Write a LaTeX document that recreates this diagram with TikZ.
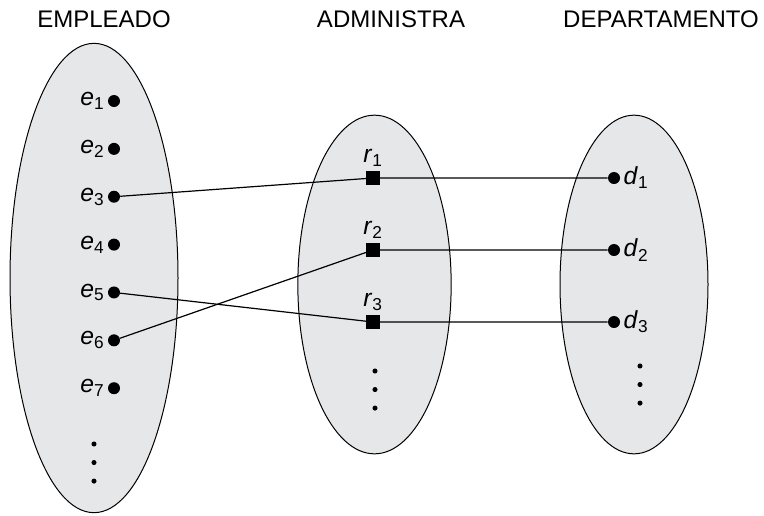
\documentclass[tikz,border=0pt]{standalone}
\usepackage{fontspec}
\setmainfont{Liberation Sans}
\usetikzlibrary{shapes.geometric,positioning}
\definecolor{setfill}{RGB}{230,231,232}
\newcommand{\elem}[2]{{\fontsize{18.5}{22}\selectfont\textit{#1}\textsubscript{#2}}}

\begin{document}
\begin{tikzpicture}[x=0.75pt,y=-0.75pt,node distance=35.9pt,font=\fontsize{18}{21}\selectfont]
            \tikzstyle{set}=[ellipse,draw,fill=setfill,line width=0.75pt,inner sep=0pt]
            \tikzstyle{member}=[circle,fill=black,inner sep=0pt,minimum size=9pt]
            \tikzstyle{rel}=[rectangle,fill=black,inner sep=0pt,minimum size=10pt]
            \tikzstyle{more}=[circle,fill=black,inner sep=0pt,minimum size=3.8pt]
            \tikzstyle{link}=[draw,line width=0.9pt]

            \useasboundingbox (0,0) rectangle (764,515);

            % the three sets
            \node [set, minimum width=126pt, minimum height=352pt] (E) at (94,278) {};
            \node [set, minimum width=115pt, minimum height=254pt] (A) at (374.5,284.5) {};
            \node [set, minimum width=111pt, minimum height=254pt] (D) at (634,284.5) {};

            \node [anchor=base] (tE) at (104,27) {EMPLEADO};
            \node [anchor=base] (tA) at (391,27) {ADMINISTRA};
            \node [anchor=base] (tD) at (661,27) {DEPARTAMENTO};

            % empleados
            \node [member, label={[label distance=-1pt]left:\elem{e}{1}}] (e1) at (114,101) {};
            \node [member, label={[label distance=-1pt]left:\elem{e}{2}}] (e2) [below of=e1] {};
            \node [member, label={[label distance=-1pt]left:\elem{e}{3}}] (e3) [below of=e2] {};
            \node [member, label={[label distance=-1pt]left:\elem{e}{4}}] (e4) [below of=e3] {};
            \node [member, label={[label distance=-1pt]left:\elem{e}{5}}] (e5) [below of=e4] {};
            \node [member, label={[label distance=-1pt]left:\elem{e}{6}}] (e6) [below of=e5] {};
            \node [member, label={[label distance=-1pt]left:\elem{e}{7}}] (e7) [below of=e6] {};
            \node [more] (eA) at (94,444) {};
            \node [more] (eB) [below of=eA, node distance=13.9pt] {};
            \node [more] (eC) [below of=eB, node distance=13.9pt] {};

            % relaciones
            \node [rel, label=above:{\elem{r}{1}}] (r1) at (373,178) {};
            \node [rel, label=above:{\elem{r}{2}}] (r2) [below of=r1, node distance=54pt] {};
            \node [rel, label=above:{\elem{r}{3}}] (r3) [below of=r2, node distance=54pt] {};
            \node [more] (rA) at (375,371) {};
            \node [more] (rB) [below of=rA, node distance=13.9pt] {};
            \node [more] (rC) [below of=rB, node distance=13.9pt] {};

            % departamentos
            \node [member, label={[label distance=-1pt]right:\elem{d}{1}}] (d1) at (614,178) {};
            \node [member, label={[label distance=-1pt]right:\elem{d}{2}}] (d2) [below of=d1, node distance=54pt] {};
            \node [member, label={[label distance=-1pt]right:\elem{d}{3}}] (d3) [below of=d2, node distance=54pt] {};
            \node [more] (dA) at (640,366) {};
            \node [more] (dB) [below of=dA, node distance=13.9pt] {};
            \node [more] (dC) [below of=dB, node distance=13.9pt] {};

            \path [link] (e3) -- (r1) -- (d1);
            \path [link] (e6) -- (r2) -- (d2);
            \path [link] (e5) -- (r3) -- (d3);
        \end{tikzpicture}
\end{document}
